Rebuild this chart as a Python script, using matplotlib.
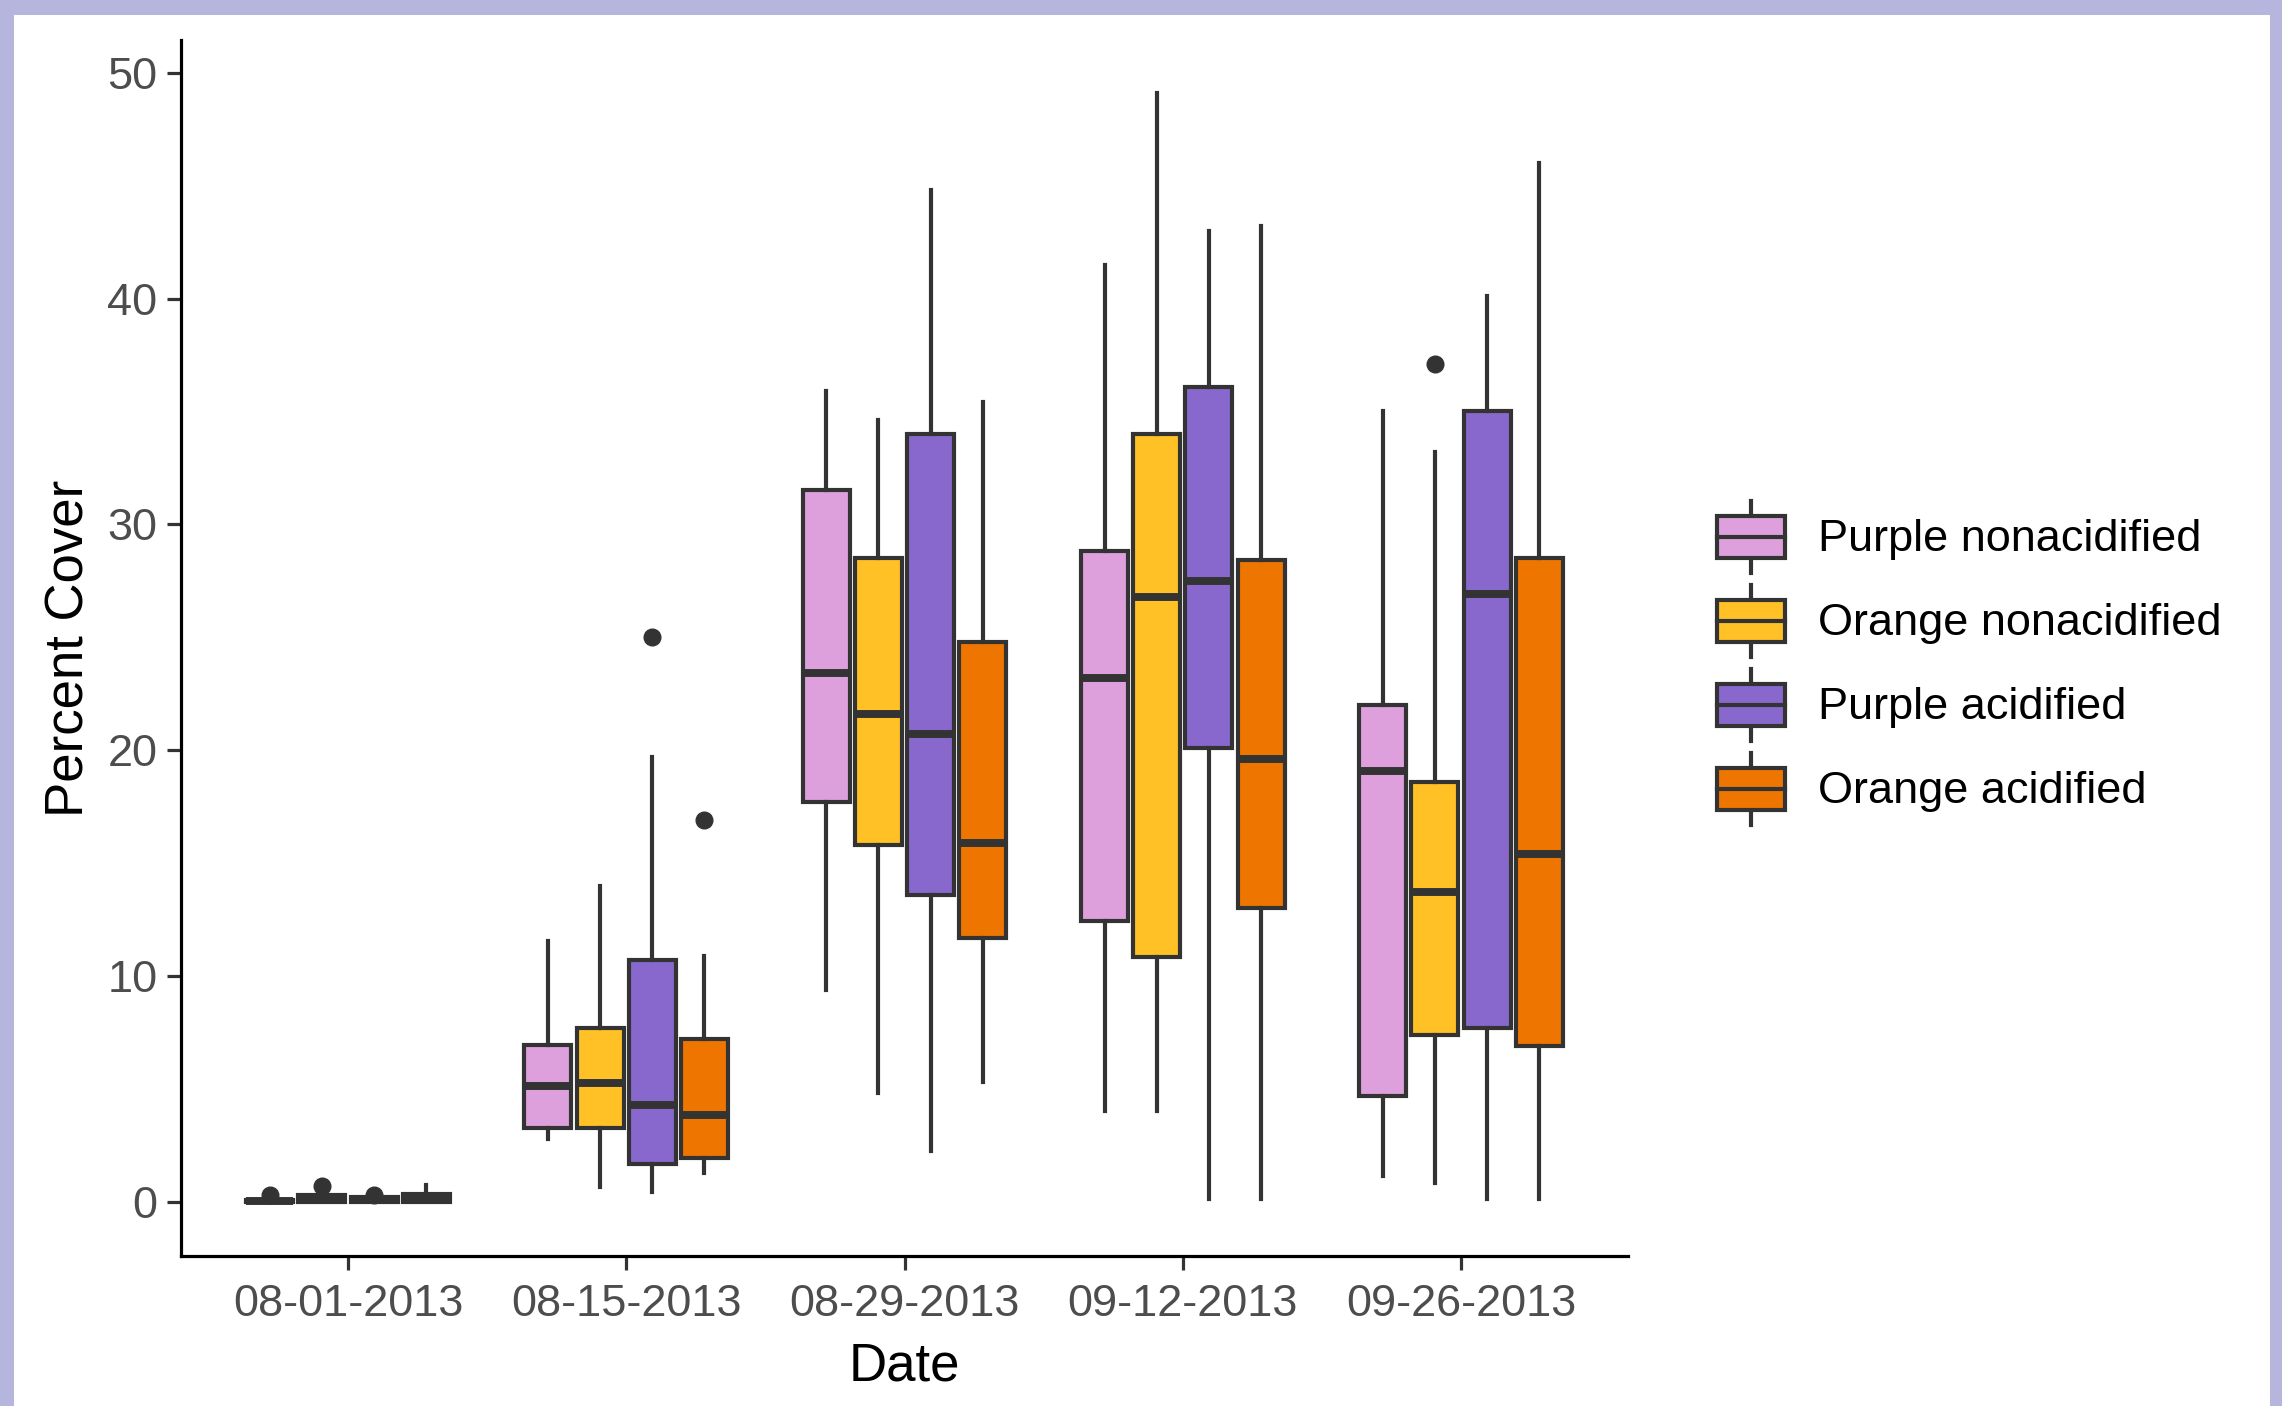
import matplotlib
matplotlib.use("Agg")
import matplotlib.pyplot as plt
from matplotlib.patches import Rectangle
from matplotlib.lines import Line2D
from matplotlib.legend_handler import HandlerBase

plt.rcParams["font.family"] = ["Liberation Sans", "DejaVu Sans"]

# ===============================
# DATA
# ===============================
dates = ["08-01-2013", "08-15-2013", "08-29-2013", "09-12-2013", "09-26-2013"]
groups = ["Purple nonacidified", "Orange nonacidified", "Purple acidified", "Orange acidified"]
colors = ["#DDA0DD", "#FFC125", "#8968CD", "#EE7600"]

# per group: one value per date  (whisker low, q1, median, q3, whisker high)
whislo = [
    [0.0, 2.8, 9.4, 4.0, 1.15],
    [0.0, 0.64, 4.8, 4.0, 0.83],
    [0.0, 0.45, 2.25, 0.13, 0.13],
    [0.0, 1.28, 5.3, 0.13, 0.13],
]
q1 = [
    [0.0, 3.27, 17.7, 12.45, 4.7],
    [0.0, 3.27, 15.8, 10.85, 7.4],
    [0.0, 1.67, 13.6, 20.1, 7.7],
    [0.0, 1.93, 11.7, 13.0, 6.9],
]
med = [
    [0.05, 5.13, 23.4, 23.2, 19.1],
    [0.15, 5.26, 21.6, 26.8, 13.7],
    [0.1, 4.3, 20.7, 27.5, 26.9],
    [0.15, 3.85, 15.9, 19.6, 15.4],
]
q3 = [
    [0.1, 6.93, 31.5, 28.8, 22.0],
    [0.3, 7.7, 28.5, 34.0, 18.6],
    [0.2, 10.7, 34.0, 36.1, 35.0],
    [0.35, 7.2, 24.8, 28.4, 28.5],
]
whishi = [
    [0.1, 11.55, 35.9, 41.5, 35.0],
    [0.3, 14.0, 34.6, 49.1, 33.2],
    [0.2, 19.7, 44.8, 43.0, 40.1],
    [0.75, 10.9, 35.4, 43.2, 46.0],
]
fliers = [
    [[0.3], [], [], [], []],
    [[0.7], [], [], [], [37.1]],
    [[0.3], [25.0], [], [], []],
    [[], [16.9], [], [], []],
]

# ===============================
# PLOT
# ===============================
W, H = 2282, 1406
fig = plt.figure(figsize=(W / 100, H / 100), dpi=100)
ax = fig.add_axes([181 / W, 1 - 1256 / H, (1628 - 181) / W, (1256 - 40) / H])

edge = "#333333"
dodge = 0.1875
box_w = dodge * 0.9
lw = 3.0

for g in range(len(groups)):
    stats = []
    for d in range(len(dates)):
        stats.append(dict(whislo=whislo[g][d], q1=q1[g][d], med=med[g][d],
                          q3=q3[g][d], whishi=whishi[g][d], fliers=fliers[g][d]))
    pos = [d + 1 + (g - 1.5) * dodge for d in range(len(dates))]
    ax.bxp(stats, positions=pos, widths=box_w, patch_artist=True,
           showcaps=False, manage_ticks=False,
           boxprops=dict(facecolor=colors[g], edgecolor=edge, linewidth=lw),
           medianprops=dict(color=edge, linewidth=lw * 1.9, solid_capstyle="butt"),
           whiskerprops=dict(color=edge, linewidth=lw),
           flierprops=dict(marker="o", markerfacecolor=edge, markeredgecolor=edge,
                           markersize=12))

ax.set_xlim(0.4, 5.6)
ax.set_ylim(-2.4, 51.45)
ax.set_xticks(range(1, len(dates) + 1))
ax.set_xticklabels(dates)
ax.set_yticks([0, 10, 20, 30, 40, 50])

for side in ["top", "right"]:
    ax.spines[side].set_visible(False)
for side in ["left", "bottom"]:
    ax.spines[side].set_linewidth(2.3)
    ax.spines[side].set_color("black")

ax.tick_params(axis="both", length=10, width=2.3, color=edge,
               labelsize=32.5, labelcolor="#4D4D4D")
ax.tick_params(axis="y", pad=7)
ax.tick_params(axis="x", pad=10)

ax.set_xlabel("Date", fontsize=38)
ax.set_ylabel("Percent Cover", fontsize=38)
ax.xaxis.set_label_coords(0.5, -0.0906)
ax.xaxis.label.set_verticalalignment("center")
ax.yaxis.set_label_coords(-0.077, 0.5)
ax.yaxis.label.set_verticalalignment("center")


# legend keys drawn as little boxplots
class HandlerBox(HandlerBase):
    def create_artists(self, legend, orig, xdescent, ydescent, width, height,
                       fontsize, trans):
        x0, y0 = -xdescent, -ydescent
        xm = x0 + width / 2
        lo, hi = 0.21, 0.79
        rect = Rectangle((x0, y0 + lo * height), width, (hi - lo) * height,
                         facecolor=orig.get_facecolor(), edgecolor=edge,
                         linewidth=lw, transform=trans)
        m = Line2D([x0, x0 + width], [y0 + 0.5 * height] * 2, color=edge,
                   linewidth=lw, transform=trans)
        w1 = Line2D([xm, xm], [y0, y0 + lo * height], color=edge,
                    linewidth=lw, transform=trans)
        w2 = Line2D([xm, xm], [y0 + hi * height, y0 + height], color=edge,
                    linewidth=lw, transform=trans)
        return [w1, w2, rect, m]


handles = [Rectangle((0, 0), 1, 1, facecolor=c) for c in colors]
fig.legend(handles, groups, handler_map={Rectangle: HandlerBox()},
           loc="center left", bbox_to_anchor=(1717 / W, 1 - 663 / H),
           frameon=False, fontsize=32.5, handlelength=1.5, handleheight=2.08,
           labelspacing=0.265, handletextpad=0.73, borderpad=0, borderaxespad=0)

# lavender frame round the picture
frame = "#B5B5DD"
fig.patches.append(Rectangle((0, 1 - 15 / H), 1, 15 / H, transform=fig.transFigure,
                             facecolor=frame, edgecolor="none"))
fig.patches.append(Rectangle((0, 0), 14 / W, 1, transform=fig.transFigure,
                             facecolor=frame, edgecolor="none"))
fig.patches.append(Rectangle((1 - 12 / W, 0), 12 / W, 1, transform=fig.transFigure,
                             facecolor=frame, edgecolor="none"))

plt.savefig("out.png", dpi=100)
